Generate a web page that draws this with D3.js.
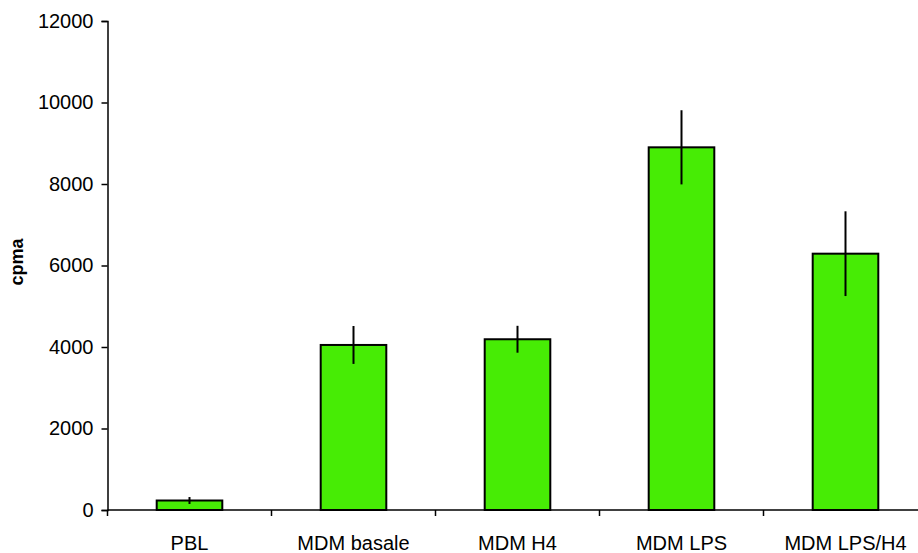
<!DOCTYPE html>
<html><head><meta charset="utf-8">
<script src="https://cdn.jsdelivr.net/npm/d3@7"></script>
<style>body{margin:0;background:#fff}svg{display:block}text{font-family:"Liberation Sans",Arial,sans-serif}</style>
</head><body>
<script>
const categories = ["PBL","MDM basale","MDM H4","MDM LPS","MDM LPS/H4"];
const values = [233, 4050, 4190, 8900, 6290];
const errors = [85, 465, 330, 910, 1040];
const yTicks = [0,2000,4000,6000,8000,10000,12000];

const W = 918, H = 553;
const svg = d3.select("body").append("svg").attr("width",W).attr("height",H);
const x = d3.scaleBand().domain(categories).range([107.5, 927.5]);
const y = d3.scaleLinear().domain([0,12000]).range([510, 21]);
const barW = x.bandwidth()*0.4;

// bars
svg.selectAll("rect.bar").data(categories).join("rect")
  .attr("x", d => x(d) + x.bandwidth()/2 - barW/2)
  .attr("y", (d,i) => y(values[i]))
  .attr("width", barW)
  .attr("height", (d,i) => y(0) - y(values[i]))
  .attr("fill", "#47ec05").attr("stroke", "#000").attr("stroke-width", 2);

// error bars
svg.selectAll("line.err").data(categories).join("line")
  .attr("x1", d => x(d) + x.bandwidth()/2).attr("x2", d => x(d) + x.bandwidth()/2)
  .attr("y1", (d,i) => y(values[i]+errors[i]))
  .attr("y2", (d,i) => y(values[i]-errors[i]))
  .attr("stroke", "#000").attr("stroke-width", 2);

// y axis
const ya = svg.append("g").attr("transform","translate(107.5,0)")
  .call(d3.axisLeft(y).tickValues(yTicks).tickFormat(d3.format("d")).tickSize(6).tickPadding(8));
ya.select(".domain").attr("stroke","#000").attr("stroke-width",1.5);
ya.selectAll(".tick line").attr("stroke","#000").attr("stroke-width",1.5);
ya.selectAll(".tick text").attr("font-size",20).attr("fill","#000").attr("font-family","Liberation Sans, Arial, sans-serif");

// x axis
const xa = svg.append("g").attr("transform","translate(0,510)");
xa.append("line").attr("x1",107.5).attr("x2",W).attr("stroke","#000").attr("stroke-width",1.5);
const bounds = categories.map(d => x(d));
xa.selectAll("line.tk").data(bounds).join("line")
  .attr("x1", d=>d).attr("x2", d=>d).attr("y1",0).attr("y2",6)
  .attr("stroke","#000").attr("stroke-width",1.5);
xa.selectAll("text").data(categories).join("text")
  .attr("x", d => x(d)+x.bandwidth()/2).attr("y", 40)
  .attr("text-anchor","middle").attr("font-size",20).attr("fill","#000").text(d=>d);

// y label
svg.append("text").attr("transform","translate(23,262) rotate(-90)")
  .attr("text-anchor","middle").attr("font-size",18).attr("font-weight","bold").text("cpma");
</script>
</body></html>
